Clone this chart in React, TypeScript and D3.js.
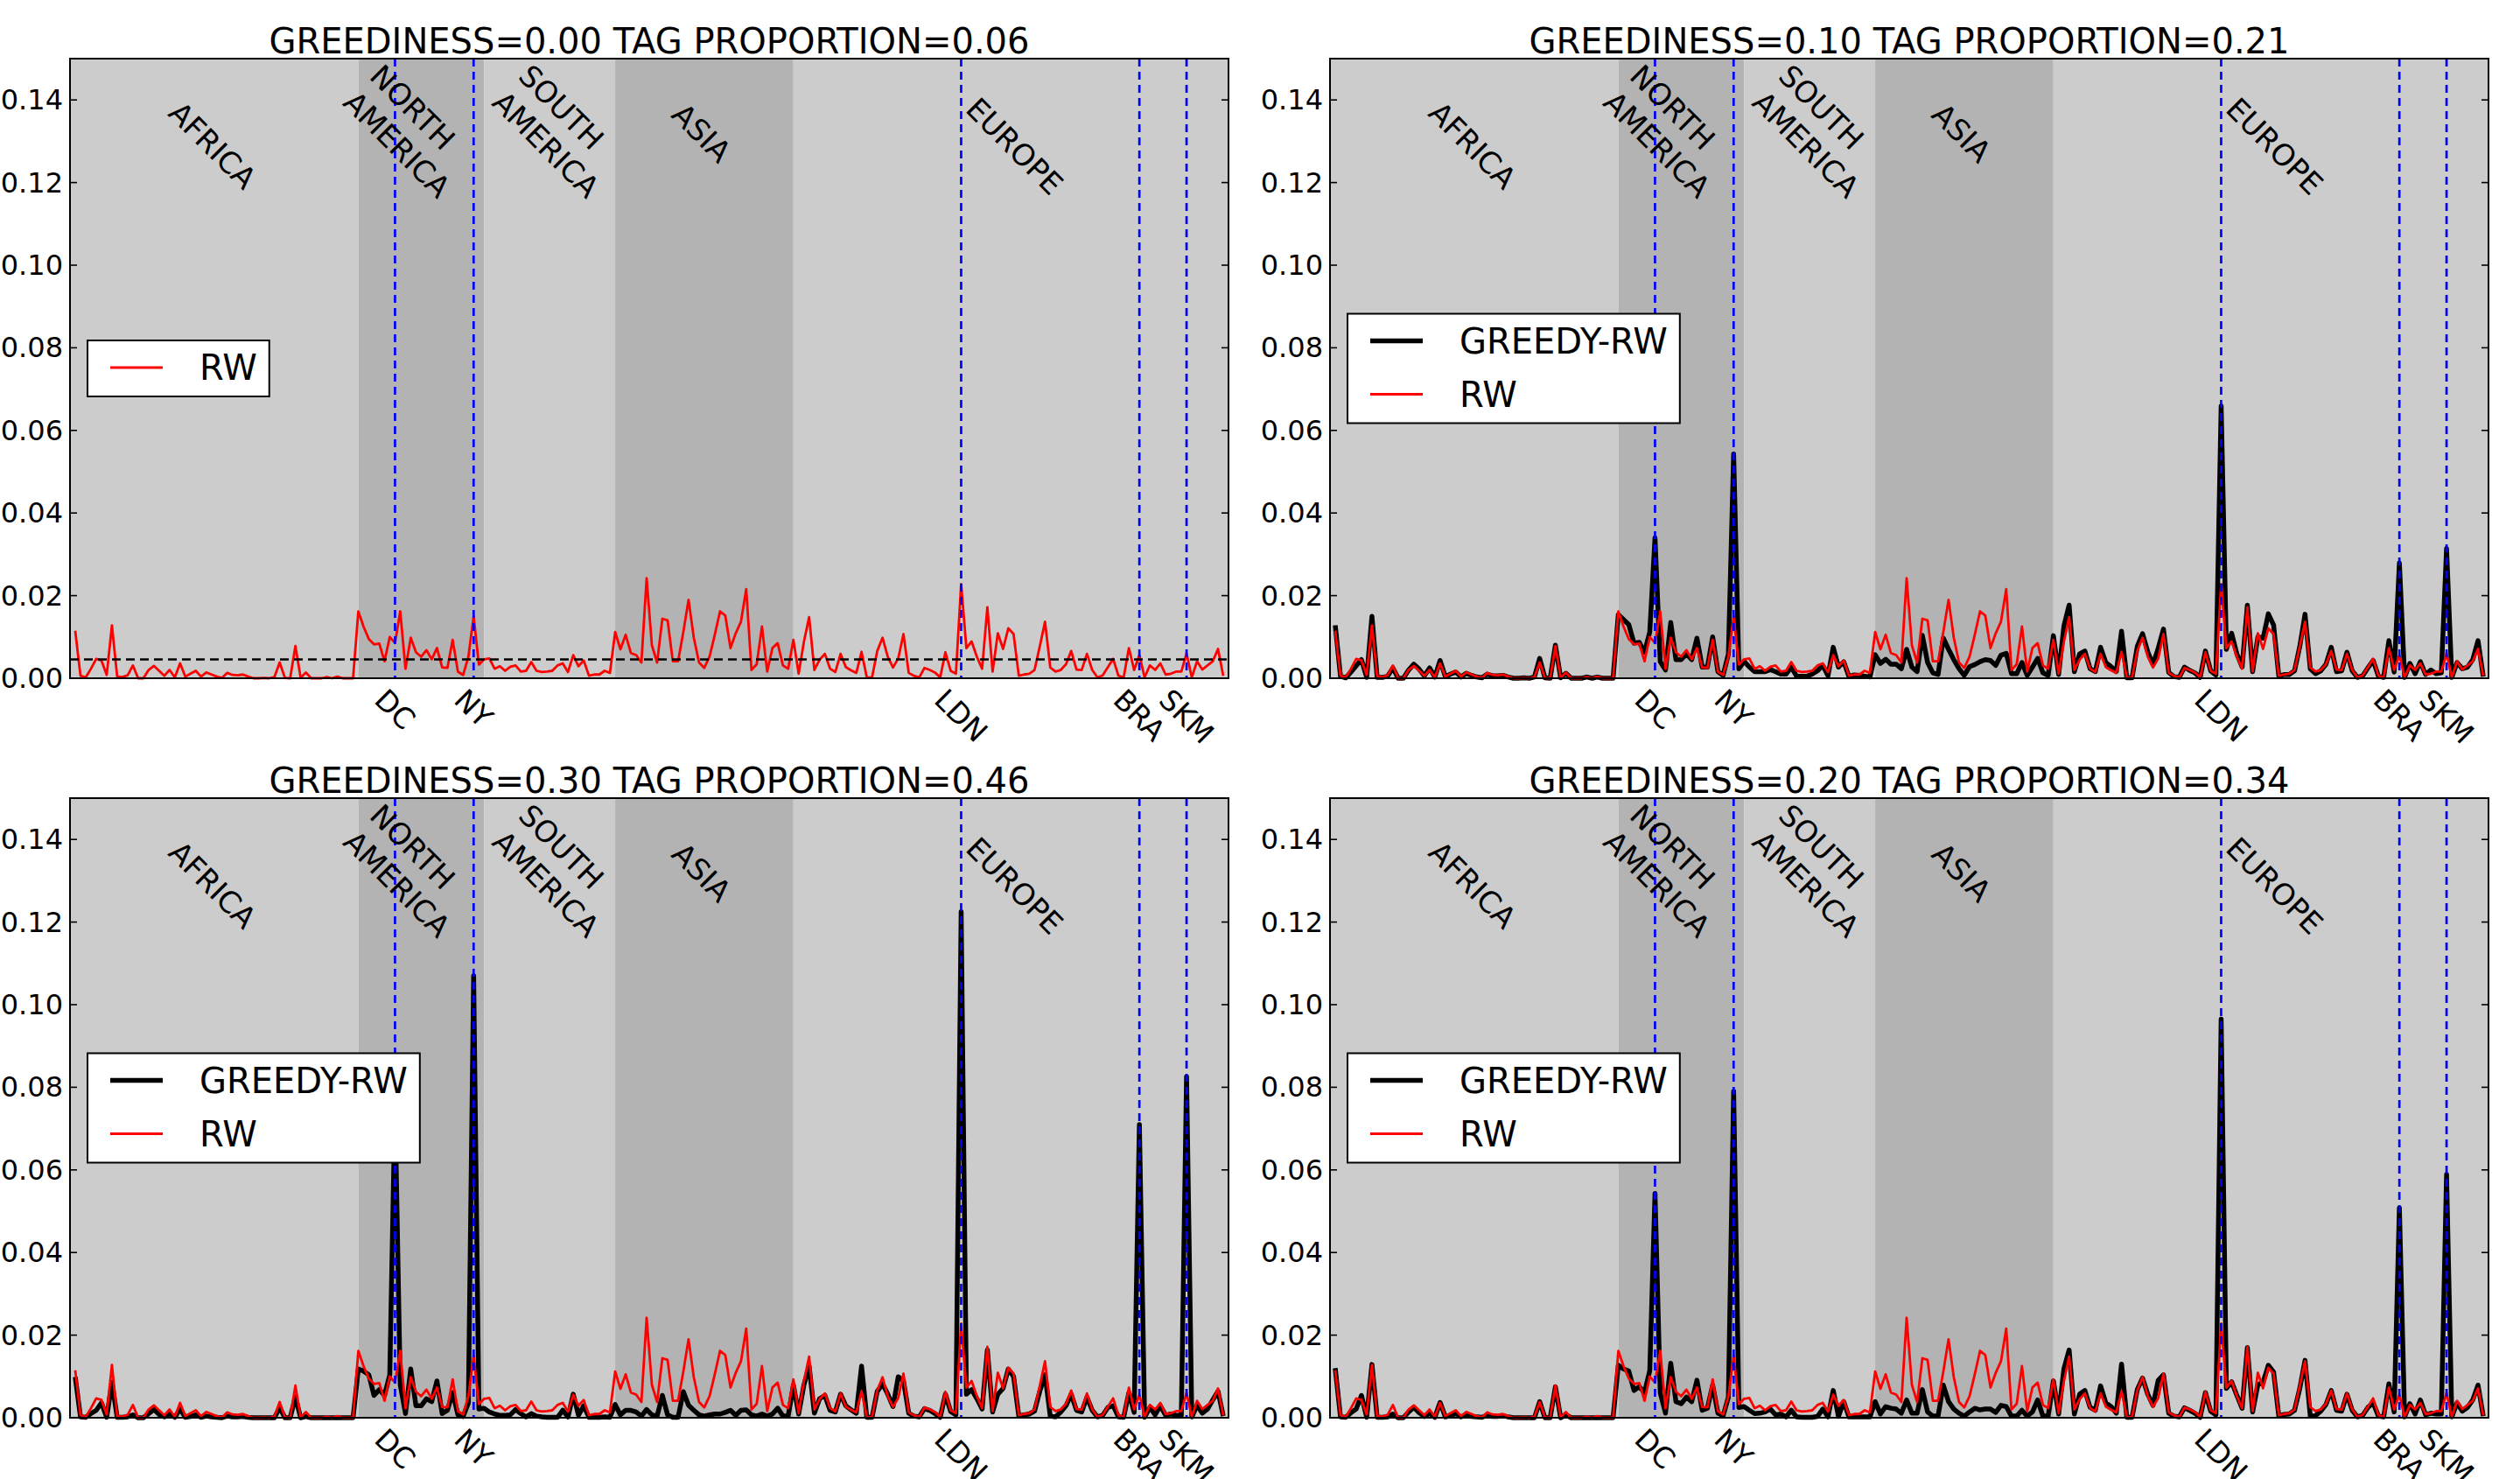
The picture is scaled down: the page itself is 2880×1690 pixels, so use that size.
import React, { useEffect, useRef } from 'react';
import * as d3 from 'd3';

// regions along the x axis (point index)
const REGIONS = ['AFRICA', 'NORTH\nAMERICA', 'SOUTH\nAMERICA', 'ASIA', 'EUROPE'];
const REGION_START = [-1, 54, 78, 103, 137];
const REGION_END = [54, 78, 103, 137, 220];
const REGION_LABEL_X = [26.2, 63.9, 92.3, 119.5, 179.2];
const REGION_LABEL_Y = [0.129, 0.1324, 0.1324, 0.132, 0.1288];

const CITIES = ['DC', 'NY', 'LDN', 'BRA', 'SKM'];
const CITY_INDEX = [61, 76, 169, 203, 212];

const Y_TICKS = [0, 0.02, 0.04, 0.06, 0.08, 0.1, 0.12, 0.14];

const RW = [
  0.0115, 0.0006, 0.0002, 0.0023, 0.0047, 0.0043, 0.0008, 0.0128, 0.0004, 0.0003,
  0.0007, 0.0031, 0, 0, 0.0020, 0.0030, 0.0018, 0.0006, 0.0020, 0.0002,
  0.0036, 0.0004, 0.0011, 0.0018, 0.0004, 0.0014, 0.0009, 0.0004, 0.0001, 0.0013,
  0.0008, 0.0007, 0.0009, 0.0004, 0, 0, 0.0001, 0, 0.0003, 0.0038,
  0.0001, 0, 0.0078, 0.0001, 0.0014, 0, 0, 0, 0.0003, 0,
  0.0004, 0, 0, 0, 0.0162, 0.0125, 0.0095, 0.0082, 0.0084, 0.0041,
  0.0100, 0.0085, 0.0162, 0.0023, 0.0098, 0.0063, 0.0052, 0.0068, 0.0046, 0.0073,
  0.0026, 0.0025, 0.0093, 0.0016, 0.0008, 0.0052, 0.0150, 0.0033, 0.0046, 0.0048,
  0.0023, 0.0029, 0.0018, 0.0028, 0.0031, 0.0016, 0.0018, 0.0039, 0.0018, 0.0015,
  0.0016, 0.0018, 0.0031, 0.0036, 0.0015, 0.0056, 0.0029, 0.0043, 0.0006, 0.0009,
  0.0009, 0.0018, 0.0013, 0.0112, 0.0070, 0.0105, 0.0061, 0.0056, 0.0038, 0.0242,
  0.0080, 0.0038, 0.0144, 0.0140, 0.0041, 0.0041, 0.0112, 0.0190, 0.0098, 0.0038,
  0.0025, 0.0052, 0.0105, 0.0162, 0.0152, 0.0073, 0.0109, 0.0137, 0.0216, 0.0020,
  0.0034, 0.0125, 0.0016, 0.0073, 0.0085, 0.0031, 0.0023, 0.0093, 0.0011, 0.0088,
  0.0148, 0.0020, 0.0045, 0.0059, 0.0023, 0.0015, 0.0059, 0.0027, 0.0019, 0.0013,
  0.0064, 0.0002, 0.0002, 0.0066, 0.0098, 0.0052, 0.0026, 0.0048, 0.0107, 0.0013,
  0.0006, 0.0002, 0.0025, 0.0020, 0.0014, 0.0002, 0.0063, 0.0018, 0.0011, 0.0228,
  0.0073, 0.0089, 0.0052, 0.0023, 0.0172, 0.0016, 0.0109, 0.0071, 0.0121, 0.0107,
  0.0006, 0.0009, 0.0011, 0.0020, 0.0077, 0.0137, 0.0026, 0.0016, 0.0020, 0.0034,
  0.0066, 0.0021, 0.0020, 0.0059, 0.0020, 0.0002, 0.0007, 0.0027, 0.0047, 0.0006,
  0.0002, 0.0073, 0.0020, 0.0056, 0.0002, 0.0031, 0.0020, 0.0036, 0.0009, 0.0011,
  0.0016, 0.0016, 0.0060, 0.0002, 0.0041, 0.0021, 0.0031, 0.0041, 0.0071, 0.0006,
];

const GREEDY_010 = [
  0.0128, 0.0005, 0.0001, 0.0015, 0.0030, 0.0045, 0.0002, 0.0150, 0.0002, 0.0002,
  0.0005, 0.0025, 0, 0, 0.0020, 0.0034, 0.0022, 0.0006, 0.0025, 0.0003,
  0.0043, 0.0004, 0.0010, 0.0015, 0.0003, 0.0012, 0.0007, 0.0003, 0.0001, 0.0010,
  0.0006, 0.0006, 0.0007, 0.0003, 0, 0, 0.0001, 0, 0.0003, 0.0048,
  0.0001, 0, 0.0080, 0.0001, 0.0012, 0, 0, 0, 0.0003, 0,
  0.0003, 0, 0, 0, 0.0154, 0.0142, 0.0130, 0.0085, 0.0087, 0.0063,
  0.0112, 0.0340, 0.0040, 0.0020, 0.0135, 0.0045, 0.0045, 0.0059, 0.0045, 0.0097,
  0.0027, 0.0027, 0.0100, 0.0016, 0.0007, 0.0059, 0.0543, 0.0023, 0.0041, 0.0027,
  0.0016, 0.0016, 0.0016, 0.0021, 0.0016, 0.0010, 0.0010, 0.0027, 0.0005, 0.0005,
  0.0005, 0.0010, 0.0018, 0.0031, 0.0006, 0.0075, 0.0027, 0.0040, 0.0004, 0.0008,
  0.0007, 0.0005, 0.0003, 0.0057, 0.0036, 0.0046, 0.0034, 0.0034, 0.0023, 0.0070,
  0.0027, 0.0016, 0.0104, 0.0038, 0.0013, 0.0009, 0.0097, 0.0070, 0.0045, 0.0023,
  0.0007, 0.0028, 0.0033, 0.0040, 0.0045, 0.0043, 0.0031, 0.0056, 0.0060, 0.0011,
  0.0011, 0.0038, 0.0007, 0.0027, 0.0048, 0.0013, 0.0007, 0.0103, 0.0009, 0.0126,
  0.0177, 0.0016, 0.0059, 0.0066, 0.0023, 0.0016, 0.0075, 0.0038, 0.0028, 0.0016,
  0.0114, 0.0001, 0.0001, 0.0077, 0.0108, 0.0064, 0.0033, 0.0073, 0.0119, 0.0014,
  0.0004, 0.0002, 0.0027, 0.0019, 0.0013, 0.0002, 0.0066, 0.0018, 0.0008, 0.0659,
  0.0070, 0.0109, 0.0059, 0.0027, 0.0177, 0.0016, 0.0100, 0.0097, 0.0156, 0.0129,
  0.0005, 0.0009, 0.0009, 0.0018, 0.0077, 0.0155, 0.0023, 0.0011, 0.0018, 0.0034,
  0.0075, 0.0016, 0.0018, 0.0063, 0.0018, 0.0002, 0.0006, 0.0025, 0.0043, 0.0005,
  0.0002, 0.0091, 0.0015, 0.0279, 0.0002, 0.0036, 0.0011, 0.0040, 0.0009, 0.0020,
  0.0011, 0.0013, 0.0314, 0.0002, 0.0038, 0.0023, 0.0027, 0.0045, 0.0091, 0.0004,
];

const GREEDY_030 = [
  0.0099, 0.0002, 0.0001, 0.0010, 0.0018, 0.0036, 0.0001, 0.0086, 0.0001, 0.0001,
  0.0002, 0.0007, 0, 0, 0.0010, 0.0020, 0.0008, 0.0002, 0.0010, 0.0001,
  0.0021, 0.0001, 0.0003, 0.0007, 0.0001, 0.0004, 0.0002, 0.0001, 0, 0.0004,
  0.0002, 0.0002, 0.0003, 0.0001, 0, 0, 0, 0, 0, 0.0025,
  0, 0, 0.0050, 0, 0.0003, 0, 0, 0, 0, 0,
  0, 0, 0, 0, 0.0118, 0.0113, 0.0104, 0.0054, 0.0068, 0.0054,
  0.0104, 0.0760, 0.0080, 0.0010, 0.0118, 0.0029, 0.0029, 0.0046, 0.0039, 0.0089,
  0.0010, 0.0018, 0.0061, 0.0007, 0.0003, 0.0036, 0.1070, 0.0021, 0.0023, 0.0014,
  0.0009, 0.0006, 0.0006, 0.0007, 0.0020, 0.0010, 0.0002, 0.0010, 0.0004, 0.0002,
  0.0001, 0.0001, 0.0001, 0.0018, 0.0002, 0.0057, 0.0006, 0.0029, 0.0001, 0.0001,
  0.0001, 0.0002, 0.0001, 0.0032, 0.0007, 0.0018, 0.0018, 0.0014, 0.0004, 0.0020,
  0.0007, 0.0004, 0.0054, 0.0007, 0.0001, 0.0001, 0.0063, 0.0030, 0.0018, 0.0007,
  0.0004, 0.0007, 0.0009, 0.0009, 0.0013, 0.0018, 0.0006, 0.0018, 0.0019, 0.0007,
  0.0004, 0.0009, 0.0004, 0.0009, 0.0023, 0.0004, 0.0004, 0.0079, 0.0009, 0.0079,
  0.0125, 0.0011, 0.0046, 0.0054, 0.0018, 0.0014, 0.0057, 0.0029, 0.0019, 0.0011,
  0.0125, 0.0001, 0.0001, 0.0064, 0.0082, 0.0057, 0.0027, 0.0099, 0.0089, 0.0011,
  0.0004, 0.0002, 0.0022, 0.0018, 0.0010, 0.0001, 0.0057, 0.0015, 0.0007, 0.1225,
  0.0057, 0.0068, 0.0046, 0.0021, 0.0164, 0.0014, 0.0057, 0.0071, 0.0118, 0.0100,
  0.0004, 0.0007, 0.0009, 0.0016, 0.0064, 0.0104, 0.0004, 0.0002, 0.0014, 0.0029,
  0.0057, 0.0018, 0.0014, 0.0050, 0.0018, 0.0002, 0.0006, 0.0025, 0.0029, 0.0002,
  0.0001, 0.0061, 0.0013, 0.0710, 0.0001, 0.0025, 0.0007, 0.0029, 0.0006, 0.0009,
  0.0006, 0.0006, 0.0826, 0.0002, 0.0030, 0.0011, 0.0021, 0.0043, 0.0064, 0.0004,
];

const GREEDY_020 = [
  0.0120, 0.0002, 0.0001, 0.0012, 0.0021, 0.0054, 0.0001, 0.0129, 0.0001, 0.0001,
  0.0002, 0.0009, 0, 0, 0.0014, 0.0025, 0.0012, 0.0003, 0.0011, 0.0001,
  0.0037, 0.0002, 0.0005, 0.0010, 0.0002, 0.0007, 0.0003, 0.0002, 0.0001, 0.0006,
  0.0003, 0.0003, 0.0005, 0.0002, 0, 0, 0, 0, 0, 0.0039,
  0, 0, 0.0075, 0, 0.0007, 0, 0, 0, 0, 0,
  0, 0, 0, 0, 0.0127, 0.0118, 0.0113, 0.0066, 0.0075, 0.0061,
  0.0114, 0.0543, 0.0060, 0.0011, 0.0132, 0.0039, 0.0034, 0.0050, 0.0039, 0.0091,
  0.0018, 0.0023, 0.0079, 0.0011, 0.0005, 0.0050, 0.0790, 0.0025, 0.0027, 0.0018,
  0.0010, 0.0011, 0.0014, 0.0021, 0.0007, 0.0009, 0.0002, 0.0018, 0.0002, 0.0001,
  0.0001, 0.0001, 0.0003, 0.0021, 0.0002, 0.0066, 0.0003, 0.0039, 0.0002, 0.0002,
  0.0002, 0.0002, 0.0002, 0.0039, 0.0009, 0.0027, 0.0023, 0.0021, 0.0011, 0.0043,
  0.0011, 0.0011, 0.0068, 0.0014, 0.0004, 0.0004, 0.0079, 0.0039, 0.0021, 0.0011,
  0.0004, 0.0014, 0.0023, 0.0019, 0.0021, 0.0021, 0.0013, 0.0030, 0.0027, 0.0004,
  0.0004, 0.0018, 0.0004, 0.0014, 0.0043, 0.0004, 0.0004, 0.0089, 0.0009, 0.0118,
  0.0164, 0.0009, 0.0057, 0.0066, 0.0025, 0.0018, 0.0077, 0.0036, 0.0027, 0.0011,
  0.0130, 0.0001, 0.0001, 0.0068, 0.0096, 0.0057, 0.0030, 0.0091, 0.0104, 0.0011,
  0.0004, 0.0002, 0.0024, 0.0018, 0.0011, 0.0001, 0.0061, 0.0016, 0.0007, 0.0965,
  0.0071, 0.0087, 0.0054, 0.0023, 0.0170, 0.0014, 0.0080, 0.0086, 0.0127, 0.0111,
  0.0004, 0.0008, 0.0009, 0.0018, 0.0071, 0.0139, 0.0004, 0.0005, 0.0016, 0.0032,
  0.0066, 0.0018, 0.0016, 0.0057, 0.0018, 0.0002, 0.0006, 0.0025, 0.0036, 0.0004,
  0.0002, 0.0082, 0.0014, 0.0508, 0.0002, 0.0034, 0.0009, 0.0043, 0.0007, 0.0011,
  0.0009, 0.0009, 0.0589, 0.0002, 0.0036, 0.0016, 0.0025, 0.0043, 0.0079, 0.0004,
];

const PANEL_TITLES = [
  'GREEDINESS=0.00 TAG PROPORTION=0.06',
  'GREEDINESS=0.10 TAG PROPORTION=0.21',
  'GREEDINESS=0.30 TAG PROPORTION=0.46',
  'GREEDINESS=0.20 TAG PROPORTION=0.34',
];
const PANEL_GREEDY = [null, GREEDY_010, GREEDY_030, GREEDY_020];

const FONT = '"DejaVu Sans", sans-serif';

export default function App() {
  const svgRef = useRef<SVGSVGElement>(null);

  useEffect(() => {
    const svg = d3.select(svgRef.current);
    svg.selectAll('*').remove();

    const W = 1324;
    const H = 708;
    const lefts = [80, 1520, 80, 1520];
    const tops = [67, 67, 912, 912];

    PANEL_TITLES.forEach((title, k) => {
      const left = lefts[k];
      const top = tops[k];
      const greedy = PANEL_GREEDY[k];

      const x = d3.scaleLinear().domain([-1, RW.length]).range([left, left + W]);
      const y = d3.scaleLinear().domain([0, 0.15]).range([top + H, top]);

      const g = svg.append('g');

      // region shading
      g.selectAll('rect.region')
        .data(REGIONS)
        .join('rect')
        .attr('x', (_, i) => x(REGION_START[i]))
        .attr('y', top)
        .attr('width', (_, i) => x(REGION_END[i]) - x(REGION_START[i]))
        .attr('height', H)
        .attr('fill', (_, i) => (i % 2 === 0 ? '#cccccc' : '#b3b3b3'));

      // series
      const line = d3.line<number>()
        .x((_, i) => x(i))
        .y(d => y(d));

      if (greedy) {
        g.append('path')
          .attr('d', line(greedy))
          .attr('fill', 'none')
          .attr('stroke', '#000')
          .attr('stroke-width', 5.5)
          .attr('stroke-linejoin', 'round');
      }
      g.append('path')
        .attr('d', line(RW))
        .attr('fill', 'none')
        .attr('stroke', '#ff0000')
        .attr('stroke-width', 2.8)
        .attr('stroke-linejoin', 'round');

      // uniform level only on the first panel
      if (!greedy) {
        g.append('line')
          .attr('x1', left)
          .attr('x2', left + W)
          .attr('y1', y(1 / RW.length))
          .attr('y2', y(1 / RW.length))
          .attr('stroke', '#000')
          .attr('stroke-width', 2.6)
          .attr('stroke-dasharray', '10,6');
      }

      // city markers
      g.selectAll('line.city')
        .data(CITY_INDEX)
        .join('line')
        .attr('x1', d => x(d))
        .attr('x2', d => x(d))
        .attr('y1', top)
        .attr('y2', top + H)
        .attr('stroke', '#0000ff')
        .attr('stroke-width', 2.7)
        .attr('stroke-dasharray', '9,6');

      // region labels, rotated and left-aligned lines
      REGIONS.forEach((name, i) => {
        const fs = 34;
        const lines = name.split('\n');
        const t = g.append('text')
          .attr('transform', `translate(${x(REGION_LABEL_X[i])},${y(REGION_LABEL_Y[i])}) rotate(45)`)
          .attr('font-family', FONT)
          .attr('font-size', fs)
          .attr('fill', '#000');
        const spans = lines.map((ln, j) => t.append('tspan')
          .attr('y', (j - (lines.length - 1) / 2) * fs * 1.25)
          .attr('dominant-baseline', 'central')
          .text(ln));
        const maxW = d3.max(spans, s => (s.node() as SVGTSpanElement).getComputedTextLength()) ?? 0;
        spans.forEach(s => s.attr('x', -maxW / 2));
      });

      // frame
      g.append('rect')
        .attr('x', left)
        .attr('y', top)
        .attr('width', W)
        .attr('height', H)
        .attr('fill', 'none')
        .attr('stroke', '#000')
        .attr('stroke-width', 2);

      // y ticks, both sides inward
      Y_TICKS.forEach(v => {
        g.append('line')
          .attr('x1', left).attr('x2', left + 8)
          .attr('y1', y(v)).attr('y2', y(v))
          .attr('stroke', '#000').attr('stroke-width', 1.6);
        g.append('line')
          .attr('x1', left + W - 8).attr('x2', left + W)
          .attr('y1', y(v)).attr('y2', y(v))
          .attr('stroke', '#000').attr('stroke-width', 1.6);
        g.append('text')
          .attr('x', left - 8)
          .attr('y', y(v))
          .attr('text-anchor', 'end')
          .attr('dominant-baseline', 'central')
          .attr('font-family', FONT)
          .attr('font-size', 32)
          .text(d3.format('.2f')(v));
      });

      // rotated city tick labels
      CITIES.forEach((c, i) => {
        const fs = 33;
        const t = g.append('text')
          .attr('font-family', FONT)
          .attr('font-size', fs)
          .attr('text-anchor', 'middle')
          .attr('dominant-baseline', 'central')
          .text(c);
        const w = (t.node() as SVGTextElement).getComputedTextLength();
        const side = (w + fs * 0.73) / Math.SQRT2;
        t.attr('transform', `translate(${x(CITY_INDEX[i])},${top + H + 10 + side / 2}) rotate(45)`);
      });

      // title
      g.append('text')
        .attr('x', left + W / 2)
        .attr('y', top - 6)
        .attr('text-anchor', 'middle')
        .attr('font-family', FONT)
        .attr('font-size', 40)
        .text(title);

      // legend
      const entries = greedy
        ? [{ label: 'GREEDY-RW', color: '#000', width: 5.5 }, { label: 'RW', color: '#ff0000', width: 2.8 }]
        : [{ label: 'RW', color: '#ff0000', width: 2.8 }];
      const boxH = entries.length * 61 + 3;
      const boxY = top + H / 2 - boxH / 2;
      const lg = g.append('g');
      const box = lg.append('rect')
        .attr('x', left + 20)
        .attr('y', boxY)
        .attr('height', boxH)
        .attr('fill', '#fff')
        .attr('stroke', '#000')
        .attr('stroke-width', 2);
      let maxW = 0;
      entries.forEach((e, i) => {
        const cy = boxY + 31 + i * 61;
        lg.append('line')
          .attr('x1', left + 46).attr('x2', left + 106)
          .attr('y1', cy).attr('y2', cy)
          .attr('stroke', e.color)
          .attr('stroke-width', e.width);
        const t = lg.append('text')
          .attr('x', left + 148)
          .attr('y', cy)
          .attr('dominant-baseline', 'central')
          .attr('font-family', FONT)
          .attr('font-size', 40)
          .text(e.label);
        maxW = Math.max(maxW, (t.node() as SVGTextElement).getComputedTextLength());
      });
      box.attr('width', 148 + maxW + 14 - 20);
    });
  }, []);

  return (
    <svg
      ref={svgRef}
      width={2880}
      height={1690}
      style={{ position: 'absolute', left: 0, top: 0, background: '#fff' }}
    />
  );
}
